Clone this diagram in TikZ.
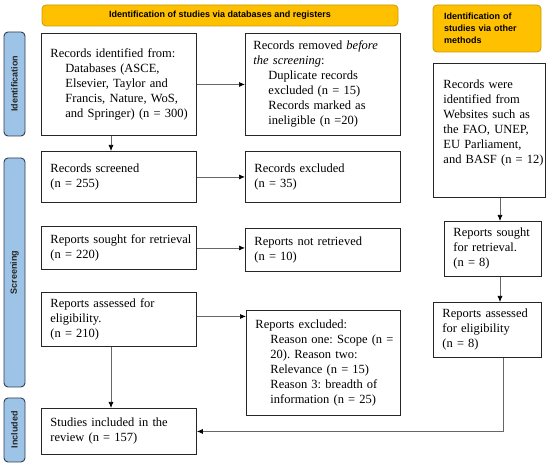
\documentclass[tikz,border=0pt]{standalone}
\usepackage{fontspec}
\setmainfont{Liberation Serif}
\newfontfamily\sansb{Liberation Sans}
\usetikzlibrary{arrows.meta,calc}
\definecolor{orfill}{HTML}{FFC000}
\definecolor{ordraw}{HTML}{C89B00}
\definecolor{sdfill}{HTML}{9DC3E6}
\definecolor{sddraw}{HTML}{2F3E50}
\frenchspacing
\begin{document}
\begin{tikzpicture}[x=1pt,y=-1pt,
  box/.style={draw=black!85, line width=0.9pt, fill=white, anchor=north west, align=left,
    inner xsep=9pt, inner ysep=0pt, font=\fontsize{12.5}{15}\selectfont},
  banner/.style={draw=ordraw, fill=orfill, rounded corners=4pt, line width=0.8pt,
    font=\sansb\bfseries\fontsize{9}{12}\selectfont, inner sep=0pt},
  side/.style={draw=sddraw, fill=sdfill, rounded corners=4pt, line width=0.9pt, rotate=90,
    font=\sansb\bfseries\fontsize{9}{11}\selectfont, inner sep=0pt, text=black!85},
  arr/.style={draw=black!60, line width=0.7pt, -{Latex[color=black,length=6pt,width=5pt]}}
]
\useasboundingbox (0,0) rectangle (550,465);

% banners
\node[banner, minimum width=356pt, minimum height=21pt] (topban) at (220,15.5)
  {Identification of studies via databases and registers};
\node[banner, minimum width=108pt, minimum height=47pt, text width=86pt, inner xsep=11pt, align=left] (rightban) at (487,28.5)
  {Identification of\\studies via other\\methods};

% side bars
\node[side, minimum width=104pt, minimum height=21pt] (sideid) at (14.5,84) {Identification};
\node[side, minimum width=229pt, minimum height=21pt] (sidescr) at (14.5,272.5) {Screening};
\node[side, minimum width=64pt, minimum height=21pt] (sideinc) at (14.5,430) {Included};

% left column
\node[box, text width=137pt, minimum height=102pt] (ident) at (41,33)
  {Records identified from:\\
   \hspace*{15pt}Databases (ASCE,\\
   \hspace*{15pt}Elsevier, Taylor and\\
   \hspace*{15pt}\mbox{Francis, Nature, WoS,}\\
   \hspace*{15pt}\mbox{and Springer) (n = 300)}};
\node[box, text width=137pt, minimum height=51pt] (screened) at (41,151)
  {Records screened\\(n = 255)};
\node[box, text width=137pt, minimum height=43pt] (sought) at (41,226)
  {\mbox{Reports sought for retrieval}\\(n = 220)};
\node[box, text width=137pt, minimum height=54pt] (assessed) at (41,292)
  {Reports assessed for\\eligibility.\\(n = 210)};
\node[box, text width=137pt, minimum height=46pt] (included) at (41,408)
  {Studies included in the\\review (n = 157)};

% middle column
\node[box, text width=139pt, inner xsep=8pt, minimum height=102pt] (removed) at (245,33)
  {\mbox{Records removed \emph{before}}\\
   \emph{the screening}:\\
   \hspace*{15pt}Duplicate records\\
   \hspace*{15pt}excluded (n = 15)\\
   \hspace*{15pt}Records marked as\\
   \hspace*{15pt}ineligible (n =20)};
\node[box, text width=137pt, minimum height=51pt] (excluded) at (245,151)
  {Records excluded\\(n = 35)};
\node[box, text width=137pt, minimum height=43pt] (notretr) at (245,228)
  {Reports not retrieved\\(n = 10)};
\node[box, text width=136pt, minimum height=105pt] (repexcl) at (246,310)
  {Reports excluded:\\
   \hspace*{15pt}\mbox{Reason one: Scope (n =}\\
   \hspace*{15pt}20). Reason two:\\
   \hspace*{15pt}Relevance (n = 15)\\
   \hspace*{15pt}\mbox{Reason 3: breadth of}\\
   \hspace*{15pt}\mbox{information (n = 25)}};

% right column
\node[box, text width=92pt, inner xsep=10pt, inner ysep=15pt, text height=10pt, text depth=94pt] (websites) at (433,63)
  {Records were\\identified from\\\mbox{Websites such as}\\\mbox{the FAO, UNEP,}\\EU Parliament,\\\mbox{and BASF (n = 12)}};
\node[box, text width=79pt, minimum height=55pt] (rsought) at (444,221)
  {\mbox{Reports sought}\\for retrieval.\\(n = 8)};
\node[box, text width=90pt, minimum height=55pt] (rassessed) at (433,302)
  {\mbox{Reports assessed}\\for eligibility\\(n = 8)};

% connectors
\coordinate (cx) at (111,0);
\coordinate (rx) at (500,0);
\coordinate (rx2) at (503,0);
\draw[arr] (ident.south -| cx) -- (screened.north -| cx);
\draw[arr] (ident.east) -- (removed.west);
\draw[arr] (screened.east) -- (excluded.west);
\draw[arr] (sought.east) -- (sought.east -| notretr.west);
\draw[arr] ($(assessed.east)+(0,-3)$) -- ($(assessed.east -| repexcl.west)+(0,-3)$);
\draw[arr] (assessed.south -| cx) -- (included.north -| cx);
\draw[arr] (websites.south -| rx) -- (rsought.north -| rx);
\draw[arr] (rsought.south -| rx) -- (rassessed.north -| rx);
\draw[arr] (rassessed.south -| rx2) |- (included.east);
\end{tikzpicture}
\end{document}
